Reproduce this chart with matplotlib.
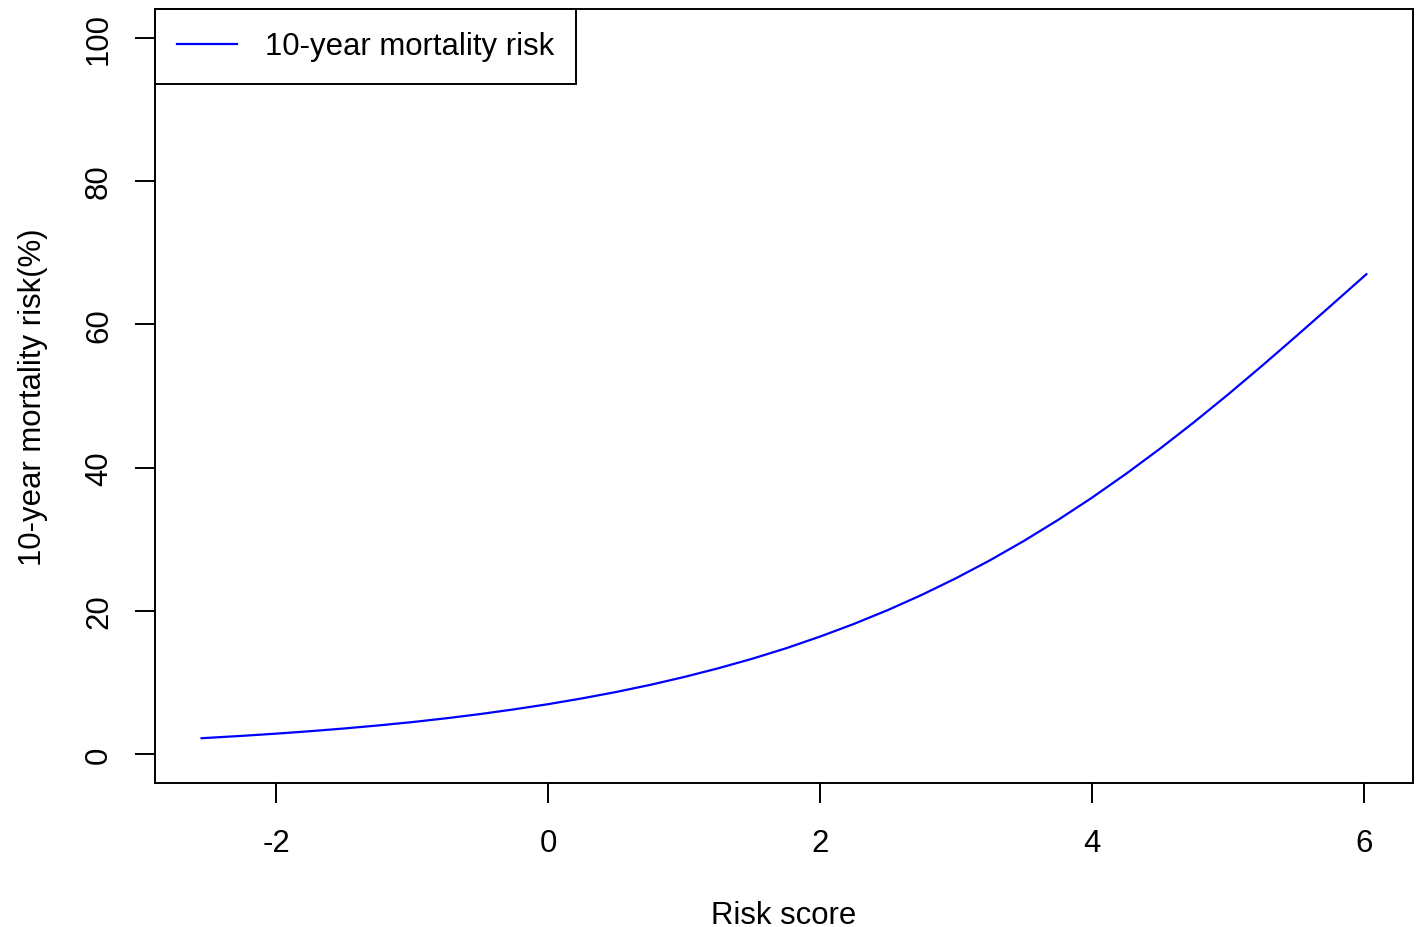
import matplotlib
matplotlib.use("Agg")
import matplotlib.pyplot as plt

risk_score = [-2.55, -2.25, -2.0, -1.75, -1.5, -1.25, -1.0, -0.75, -0.5, -0.25,
              0.0, 0.25, 0.5, 0.75, 1.0, 1.25, 1.5, 1.75, 2.0, 2.25, 2.5, 2.75,
              3.0, 3.25, 3.5, 3.75, 4.0, 4.25, 4.5, 4.75, 5.0, 5.25, 5.5, 5.75,
              6.0, 6.02]
mortality = [2.25, 2.58, 2.89, 3.23, 3.61, 4.03, 4.50, 5.03, 5.62, 6.28,
             7.00, 7.81, 8.70, 9.69, 10.79, 12.00, 13.33, 14.80, 16.43, 18.20,
             20.14, 22.26, 24.57, 27.07, 29.78, 32.69, 35.80, 39.12, 42.63, 46.32,
             50.18, 54.18, 58.29, 62.46, 66.66, 67.00]
x_ticks = [-2, 0, 2, 4, 6]
y_ticks = [0, 20, 40, 60, 80, 100]
legend_label = "10-year mortality risk"

plt.rcParams['font.family'] = ['Liberation Sans', 'DejaVu Sans']
fs = 22.4
fig = plt.figure(figsize=(14.19, 9.28), dpi=100)
ax = fig.add_axes([155/1419, 1 - 784/928, (1413-155)/1419, (784-10)/928])

ax.plot(risk_score, mortality, color='blue', lw=1.6, label=legend_label)

xr = max(risk_score) - min(risk_score)
ax.set_xlim(min(risk_score) - 0.04*xr, max(risk_score) + 0.04*xr)
ax.set_ylim(-4, 104)
ax.set_xticks(x_ticks)
ax.set_xticklabels([str(v) for v in x_ticks])
ax.set_yticks(y_ticks)
ax.set_yticklabels([str(v) for v in y_ticks], rotation=90, va='center')
ax.tick_params(axis='both', length=14.5, width=1.4, labelsize=fs, color='black')
ax.tick_params(axis='x', pad=18)
ax.tick_params(axis='y', pad=15)
for s in ax.spines.values():
    s.set_linewidth(1.4)

ax.set_xlabel("Risk score", fontsize=fs, labelpad=30)
ax.set_ylabel("10-year mortality risk(%)", fontsize=fs, labelpad=26)

leg = ax.legend(loc='upper left', borderaxespad=0, fancybox=False,
                edgecolor='black', framealpha=1, fontsize=fs,
                handlelength=1.9, handletextpad=0.9, borderpad=0.72)
leg.get_frame().set_linewidth(1.4)

fig.savefig("out.png", dpi=100)
